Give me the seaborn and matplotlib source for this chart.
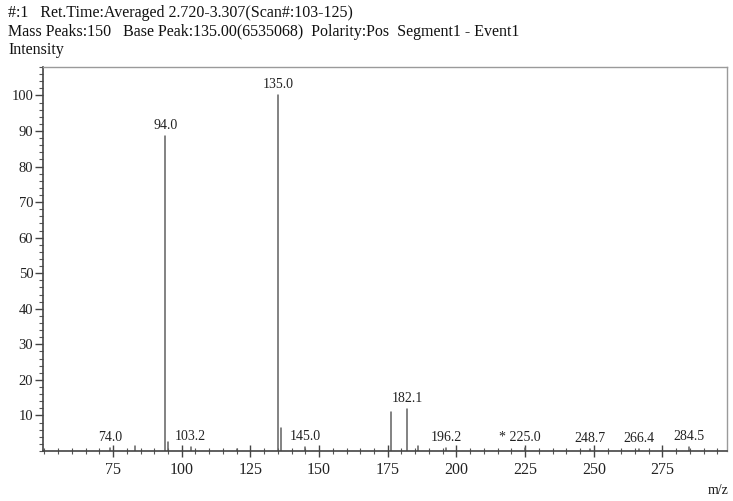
import matplotlib
matplotlib.use("Agg")
import matplotlib.pyplot as plt
from matplotlib.ticker import MultipleLocator
import numpy as np
import pandas as pd
import seaborn as sns

# Centroid mass spectrum: m/z and relative intensity (%)
mz = [74.0, 83.0, 94.0, 95.0, 103.2, 120.0, 135.0, 136.0, 145.0, 176.0,
      182.1, 186.0, 196.2, 225.0, 248.7, 266.4, 284.5]
intensity = [0.9, 1.4, 88.6, 2.6, 1.2, 0.6, 100.0, 6.5, 1.2, 11.0,
             11.8, 1.3, 0.9, 0.8, 0.6, 0.6, 1.2]

# Peaks that carry an m/z annotation, and their label text prefixes
labelled_mz = [74.0, 94.0, 103.2, 135.0, 145.0, 182.1, 196.2, 225.0, 248.7, 266.4, 284.5]
label_prefix = {225.0: "* "}

header_lines = [
    "#:1   Ret.Time:Averaged 2.720-3.307(Scan#:103-125)",
    "Mass Peaks:150   Base Peak:135.00(6535068)  Polarity:Pos  Segment1 - Event1",
    "Intensity",
]
x_label = "m/z"

sns.set_theme(style="white")
plt.rcParams["font.family"] = ["Liberation Serif", "DejaVu Serif"]

# Each stick is a two-point line from the baseline up to its intensity
rows = []
for i, (m, h) in enumerate(zip(mz, intensity)):
    rows.append({"peak": i, "mz": m, "rel": 0.0})
    rows.append({"peak": i, "mz": m, "rel": h})
sticks = pd.DataFrame(rows)

fig = plt.figure(figsize=(7.33, 5.01), dpi=100)
ax = fig.add_axes([0.0587, 0.0998, 0.9331, 0.7665])

sns.lineplot(data=sticks, x="mz", y="rel", units="peak", estimator=None,
             color="#606060", linewidth=1.1, ax=ax, legend=False)

ax.set_xlim(49.5, 298.5)
ax.set_ylim(0, 108)

for m, h in zip(mz, intensity):
    if m in labelled_mz:
        ax.annotate(f"{label_prefix.get(m, '')}{m:.1f}", xy=(m, h),
                    xytext=(-4 if m in label_prefix else 0, 3),
                    textcoords="offset points", ha="center", va="bottom",
                    fontsize=10, color="#222222")

ax.xaxis.set_minor_locator(MultipleLocator(5))
ax.yaxis.set_minor_locator(MultipleLocator(2))
ax.set_xticks([75, 100, 125, 150, 175, 200, 225, 250, 275])
ax.set_yticks(list(range(10, 101, 10)))

ax.tick_params(axis="x", which="major", direction="inout", length=8, width=1,
               color="#444444", labelsize=11.5, pad=4, labelcolor="#222222",
               bottom=True)
ax.tick_params(axis="x", which="minor", direction="inout", length=4, width=0.8,
               color="#555555", bottom=True)
ax.tick_params(axis="y", which="major", direction="out", length=6, width=1,
               color="#444444", labelsize=10.5, pad=1, labelcolor="#222222",
               left=True)
ax.tick_params(axis="y", which="minor", direction="out", length=3, width=0.8,
               color="#555555", left=True)

ax.set_xlabel("")
ax.set_ylabel("")
for side in ["left", "bottom"]:
    ax.spines[side].set_color("#444444")
    ax.spines[side].set_linewidth(1.2)
for side in ["top", "right"]:
    ax.spines[side].set_color("#9a9a9a")
    ax.spines[side].set_linewidth(1.0)

for k, line in enumerate(header_lines):
    fig.text(8 / 733, 1 - (13 + 18.5 * k) / 501, line, ha="left", va="center",
             fontsize=11.5, color="#111111")
fig.text(718 / 733, 1 - 490 / 501, x_label, ha="center", va="center",
         fontsize=10, color="#1a1a1a")

fig.savefig("out.png", dpi=100)
